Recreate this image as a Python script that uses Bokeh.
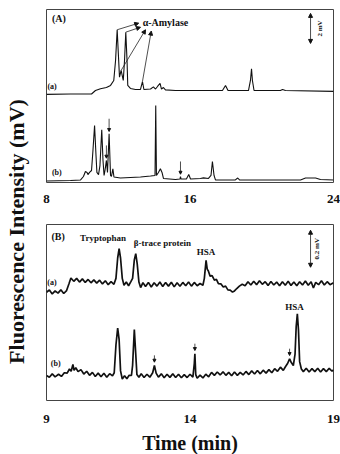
from math import pi
from bokeh.plotting import figure
from bokeh.layouts import row, column
from bokeh.models import Range1d, Label, Arrow, NormalHead, ColumnDataSource, FixedTicker
from bokeh.embed import file_html
from bokeh.resources import INLINE

SERIF = "Liberation Serif"

# ---------------- data ----------------
ticks_A = [8, 16, 24]
ticks_B = [9, 14, 19]

# Panel A, trace (a)  (time min, mV)
A_a_t = [8.00, 9.34, 10.51, 10.73, 11.01, 11.34, 11.57, 11.75, 11.85, 11.94, 12.01, 12.07,
         12.16, 12.28, 12.35, 12.42, 12.49, 12.53, 12.68, 12.96, 13.24, 13.35, 13.43, 13.80,
         13.96, 14.08, 14.19, 14.33, 14.41, 14.52, 14.63, 15.19, 16.58, 17.81, 17.98, 18.12,
         19.26, 19.37, 19.43, 19.48, 19.57, 21.04, 21.16, 21.32, 24.00]
A_a_v = [5.87, 5.90, 5.90, 6.13, 6.25, 6.33, 6.47, 6.80, 8.13, 10.18, 8.47, 7.02,
         7.47, 6.80, 8.13, 10.02, 8.13, 6.47, 6.27, 6.20, 6.20, 6.73, 6.20, 6.23,
         6.37, 6.23, 6.40, 6.60, 6.23, 6.33, 6.17, 6.13, 6.13, 6.13, 6.47, 6.13,
         6.13, 6.80, 7.58, 6.80, 6.13, 6.13, 6.20, 6.13, 6.07]

# Panel A, trace (b)
A_b_t = [8.00, 9.34, 9.90, 10.06, 10.17, 10.26, 10.31, 10.40, 10.51, 10.59, 10.68, 10.76,
         10.81, 10.90, 10.98, 11.08, 11.15, 11.21, 11.26, 11.34, 11.40, 11.49, 11.57, 11.62,
         11.70, 11.76, 12.12, 13.24, 13.80, 14.05, 14.09, 14.13, 14.24, 14.35, 14.44, 14.52,
         15.19, 15.44, 15.47, 15.50, 15.80, 15.93, 16.03, 16.58, 16.75, 17.03, 17.17, 17.25,
         17.34, 17.42, 18.53, 18.66, 18.76, 22.16, 22.44, 23.00, 23.27, 24.00]
A_b_v = [0.10, 0.13, 0.17, 0.40, 0.73, 0.67, 0.53, 0.67, 0.80, 2.13, 3.80, 1.80,
         0.67, 0.53, 1.13, 3.51, 1.47, 0.47, 0.80, 1.47, 0.67, 3.25, 0.47, 0.40,
         0.91, 0.37, 0.30, 0.37, 0.43, 0.47, 5.13, 0.47, 0.67, 0.91, 0.67, 0.27,
         0.20, 0.23, 0.40, 0.23, 0.23, 0.53, 0.23, 0.27, 0.31, 0.27, 0.47, 1.40,
         0.47, 0.17, 0.17, 0.30, 0.17, 0.17, 0.30, 0.30, 0.20, 0.17]

# alpha-amylase peaks in trace (a) and marked peaks in trace (b)
amylase_t = [11.94, 12.42, 12.16, 13.35]
amylase_v = [10.18, 10.02, 7.47, 6.73]
A_marked_t = [11.34, 11.49, 15.47]
A_marked_v = [1.47, 3.25, 0.40]

# Panel B, trace (a)
B_a_t = [9.00, 9.10, 9.20, 9.30, 9.40, 9.50, 9.60, 9.70, 9.78, 9.85, 9.95, 10.05, 10.15,
         10.25, 10.35, 10.45, 10.55, 10.65, 10.75, 10.85, 10.95, 11.05, 11.15, 11.25, 11.35,
         11.42, 11.48, 11.53, 11.58, 11.64, 11.70, 11.78, 11.86, 11.94, 12.00, 12.06, 12.11,
         12.16, 12.22, 12.28, 12.36, 12.45, 12.55, 12.65, 12.75, 12.85, 12.95, 13.05, 13.15,
         13.25, 13.35, 13.45, 13.55, 13.65, 13.75, 13.85, 13.95, 14.05, 14.15, 14.25, 14.35,
         14.45, 14.50, 14.56, 14.60, 14.64, 14.70, 14.77, 14.85, 14.92, 14.99, 15.08, 15.16,
         15.24, 15.32, 15.40, 15.48, 15.55, 15.63, 15.72, 15.82, 15.92, 16.02, 16.12, 16.22,
         16.32, 16.42, 16.52, 16.62, 16.72, 16.82, 16.92, 17.02, 17.12, 17.22, 17.32, 17.42,
         17.52, 17.62, 17.72, 17.82, 17.92, 18.02, 18.12, 18.22, 18.30, 18.38, 18.48, 18.58,
         18.68, 18.78, 18.88, 19.00]
B_a_v = [0.585, 0.597, 0.576, 0.592, 0.580, 0.598, 0.578, 0.594, 0.630, 0.662, 0.644, 0.660, 0.640,
         0.657, 0.638, 0.654, 0.636, 0.652, 0.634, 0.650, 0.630, 0.647, 0.626, 0.642, 0.628,
         0.660, 0.770, 0.820, 0.770, 0.660, 0.623, 0.640, 0.620, 0.642, 0.660, 0.760, 0.793,
         0.740, 0.640, 0.610, 0.637, 0.616, 0.638, 0.613, 0.636, 0.618, 0.640, 0.616, 0.638,
         0.618, 0.639, 0.614, 0.636, 0.617, 0.638, 0.620, 0.640, 0.618, 0.638, 0.620, 0.632,
         0.623, 0.660, 0.757, 0.710, 0.700, 0.672, 0.675, 0.650, 0.655, 0.632, 0.630, 0.613,
         0.618, 0.598, 0.596, 0.586, 0.592, 0.605, 0.618, 0.628, 0.620, 0.642, 0.624, 0.644,
         0.626, 0.647, 0.628, 0.642, 0.622, 0.643, 0.624, 0.640, 0.620, 0.642, 0.623, 0.644,
         0.622, 0.640, 0.620, 0.642, 0.624, 0.646, 0.623, 0.642, 0.608, 0.638, 0.626, 0.647,
         0.624, 0.642, 0.626, 0.636]

# Panel B, trace (b)
B_b_t = [9.00, 9.10, 9.20, 9.30, 9.42, 9.52, 9.62, 9.72, 9.80, 9.86, 9.92, 9.96, 10.02,
         10.10, 10.20, 10.30, 10.40, 10.50, 10.60, 10.70, 10.80, 10.90, 11.00, 11.10, 11.20,
         11.30, 11.36, 11.42, 11.48, 11.53, 11.58, 11.64, 11.72, 11.80, 11.88, 11.96, 12.00,
         12.06, 12.11, 12.15, 12.22, 12.30, 12.40, 12.50, 12.60, 12.70, 12.76, 12.82, 12.90,
         13.00, 13.10, 13.20, 13.30, 13.40, 13.50, 13.60, 13.70, 13.80, 13.90, 14.00, 14.10,
         14.15, 14.17, 14.20, 14.25, 14.35, 14.45, 14.55, 14.65, 14.75, 14.85, 14.95, 15.05,
         15.15, 15.25, 15.35, 15.45, 15.55, 15.65, 15.75, 15.85, 15.95, 16.05, 16.15, 16.25,
         16.35, 16.45, 16.55, 16.65, 16.75, 16.85, 16.95, 17.05, 17.15, 17.25, 17.33, 17.40,
         17.47, 17.53, 17.60, 17.66, 17.70, 17.74, 17.78, 17.82, 17.88, 17.95, 18.05, 18.15,
         18.25, 18.35, 18.45, 18.55, 18.65, 18.75, 18.85, 18.95, 19.00]
B_b_v = [0.135, 0.126, 0.144, 0.128, 0.142, 0.130, 0.150, 0.148, 0.170, 0.158, 0.195, 0.163, 0.177,
         0.156, 0.167, 0.143, 0.158, 0.136, 0.152, 0.130, 0.148, 0.128, 0.147, 0.126, 0.145,
         0.133, 0.150, 0.300, 0.391, 0.330, 0.160, 0.116, 0.134, 0.118, 0.136, 0.135, 0.190,
         0.384, 0.250, 0.140, 0.126, 0.144, 0.124, 0.142, 0.126, 0.150, 0.189, 0.148, 0.126,
         0.144, 0.123, 0.142, 0.125, 0.144, 0.124, 0.142, 0.123, 0.140, 0.124, 0.142, 0.126,
         0.200, 0.252, 0.140, 0.120, 0.137, 0.122, 0.142, 0.128, 0.152, 0.136, 0.154, 0.138,
         0.155, 0.136, 0.152, 0.134, 0.154, 0.136, 0.152, 0.138, 0.157, 0.140, 0.160, 0.143,
         0.162, 0.144, 0.164, 0.148, 0.167, 0.150, 0.172, 0.158, 0.180, 0.163, 0.184, 0.200,
         0.225, 0.205, 0.189, 0.250, 0.400, 0.469, 0.380, 0.210, 0.170, 0.156, 0.174, 0.154,
         0.172, 0.156, 0.174, 0.154, 0.172, 0.156, 0.174, 0.158, 0.166]
B_marked_t = [12.76, 14.17, 17.47]
B_marked_v = [0.189, 0.252, 0.225]

# ---------------- helpers ----------------
def panel(xr, yr, fh, top, bottom, ticks):
    p = figure(frame_width=287, frame_height=fh, min_border_left=16, min_border_right=7,
               min_border_top=top, min_border_bottom=bottom,
               x_range=Range1d(*xr), y_range=Range1d(*yr),
               toolbar_location=None, output_backend="svg")
    p.yaxis.visible = False
    p.grid.visible = False
    p.outline_line_color = "#444444"
    p.outline_line_width = 1
    p.background_fill_color = "white"
    p.border_fill_color = "white"
    ax = p.xaxis[0]
    ax.ticker = FixedTicker(ticks=ticks)
    ax.axis_line_color = None
    ax.major_tick_line_color = None
    ax.minor_tick_line_color = None
    ax.major_label_text_font = SERIF
    ax.major_label_text_font_style = "bold"
    ax.major_label_text_font_size = "13px"
    ax.major_label_text_color = "#111111"
    ax.major_label_standoff = 6
    return p

def lab(p, x, y, text, size="9px", align="left", angle=0.0):
    p.add_layout(Label(x=x, y=y, text=text, text_font=SERIF, text_font_style="bold",
                       text_font_size=size, text_align=align, text_baseline="middle",
                       text_color="#111111", angle=angle))

def arrows(p, xs, ys, xe, ye, size=4):
    src = ColumnDataSource(dict(xs=xs, ys=ys, xe=xe, ye=ye))
    p.add_layout(Arrow(end=NormalHead(size=size, fill_color="#111111", line_color="#111111"),
                       x_start="xs", y_start="ys", x_end="xe", y_end="ye",
                       line_color="#222222", line_width=0.8, source=src))

# ---------------- panel A ----------------
pA = panel((8, 24), (0, 11.53), 173, 9, 28, ticks_A)
pA.line(A_a_t, A_a_v, line_color="#111111", line_width=1.1)
pA.line(A_b_t, A_b_v, line_color="#111111", line_width=1.1)
lab(pA, 8.3, 10.93, "(A)", "10px")
lab(pA, 8.05, 6.4, "(a)", "8px")
lab(pA, 8.3, 0.67, "(b)", "8px")
lab(pA, 14.63, 10.67, "α-Amylase", "10px", "center")
arrows(pA, amylase_t, amylase_v, [13.14, 13.24, 13.52, 13.84], [10.62, 10.35, 10.18, 10.09])
arrows(pA, A_marked_t, [v + 1.0 for v in A_marked_v], A_marked_t, [v + 0.15 for v in A_marked_v], 3)
pA.add_layout(Arrow(start=NormalHead(size=4, fill_color="#111111", line_color="#111111"),
                    end=NormalHead(size=4, fill_color="#111111", line_color="#111111"),
                    x_start=22.72, y_start=9.27, x_end=22.72, y_end=11.27,
                    line_color="#222222", line_width=0.8))
lab(pA, 23.22, 10.27, "2 mV", "7px", "center", pi / 2)

# ---------------- panel B ----------------
pB = panel((9, 19), (0, 0.951), 176, 14, 54, ticks_B)
pB.line(B_a_t, B_a_v, line_color="#111111", line_width=1.7)
pB.line(B_b_t, B_b_v, line_color="#111111", line_width=1.7)
ax = pB.xaxis[0]
ax.axis_label = "Time (min)"
ax.axis_label_text_font = SERIF
ax.axis_label_text_font_style = "bold"
ax.axis_label_text_font_size = "20px"
ax.axis_label_text_color = "#111111"
ax.axis_label_standoff = 6
ax.major_label_standoff = 8
lab(pB, 9.17, 0.886, "(B)", "10px")
lab(pB, 9.03, 0.640, "(a)", "8px")
lab(pB, 9.15, 0.198, "(b)", "8px")
lab(pB, 10.97, 0.876, "Tryptophan", "9px", "center")
lab(pB, 13.04, 0.850, "β-trace protein", "9px", "center")
lab(pB, 14.56, 0.800, "HSA", "9px", "center")
lab(pB, 17.64, 0.503, "HSA", "9px", "center")
arrows(pB, B_marked_t, [v + 0.055 for v in B_marked_v], B_marked_t, [v + 0.018 for v in B_marked_v], 3)
pB.add_layout(Arrow(start=NormalHead(size=4, fill_color="#111111", line_color="#111111"),
                    end=NormalHead(size=4, fill_color="#111111", line_color="#111111"),
                    x_start=18.2, y_start=0.72, x_end=18.2, y_end=0.92,
                    line_color="#222222", line_width=0.8))
lab(pB, 18.44, 0.82, "0.2 mV", "7px", "center", pi / 2)

# ---------------- shared y label ----------------
yl = figure(width=30, height=454, x_range=Range1d(0, 30), y_range=Range1d(0, 454),
            min_border=0, toolbar_location=None, output_backend="svg")
yl.axis.visible = False
yl.grid.visible = False
yl.outline_line_color = None
yl.add_layout(Label(x=16, y=223, text="Fluorescence Intensity (mV)", text_font=SERIF,
                    text_font_style="bold", text_font_size="22px", text_align="center",
                    text_baseline="middle", text_color="#111111", angle=pi / 2))

layout = row(yl, column(pA, pB))
open("out.html", "w").write(file_html(layout, INLINE))
